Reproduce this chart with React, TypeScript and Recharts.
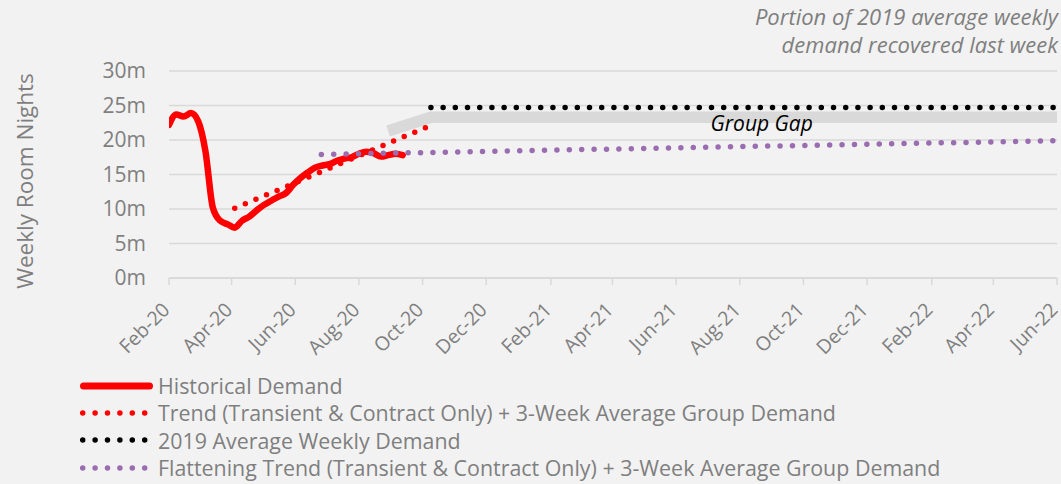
import { LineChart, Line, XAxis, YAxis, CartesianGrid, Legend, ReferenceDot } from 'recharts'

const FONT = '"Open Sans", sans-serif'
const GREY_TEXT = '#7f7f7f'
const GRID = '#d9d9d9'

const DAY = 86400000
const d = (s: string) => Date.parse(s + 'T00:00:00Z')

const X_START = '2020-02-01'
const X_END = '2022-06-01'
const TICK_DATES = [
  '2020-02-01', '2020-04-01', '2020-06-01', '2020-08-01', '2020-10-01', '2020-12-01',
  '2021-02-01', '2021-04-01', '2021-06-01', '2021-08-01', '2021-10-01', '2021-12-01',
  '2022-02-01', '2022-04-01', '2022-06-01',
]
const TICK_LABELS = [
  'Feb-20', 'Apr-20', 'Jun-20', 'Aug-20', 'Oct-20', 'Dec-20',
  'Feb-21', 'Apr-21', 'Jun-21', 'Aug-21', 'Oct-21', 'Dec-21',
  'Feb-22', 'Apr-22', 'Jun-22',
]
const Y_TICKS = [0, 5, 10, 15, 20, 25, 30]

// weekly room nights (millions), one value per week from HIST_START
const HIST_START = '2020-02-01'
const HIST_VALUES = [
  22.2, 23.7, 23.4, 23.9, 22.7, 18.3, 10.2, 8.3, 7.8, 7.3, 8.3, 8.9, 9.8,
  10.6, 11.2, 11.8, 12.3, 13.5, 14.5, 15.3, 16.0, 16.3, 16.5, 17.0, 17.3,
  17.5, 18.0, 18.3, 18.1, 17.6, 17.8, 18.0, 17.8,
]

const TREND_DATES = ['2020-04-04', '2020-10-07']
const TREND_VALUES = [10.1, 22.0]

const AVG_DATES = ['2020-10-09', '2022-06-01']
const AVG_VALUES = [24.7, 24.7]

const FLAT_DATES = ['2020-06-26', '2022-06-01']
const FLAT_VALUES = [17.9, 19.9]

const GAP_DATES = ['2020-08-29', '2020-10-09', '2022-06-01']
const GAP_VALUES = [21.3, 23.3, 23.3]

const LEGEND = [
  { name: 'Historical Demand', color: '#ff0000', dotted: false },
  { name: 'Trend (Transient & Contract Only) + 3-Week Average Group Demand', color: '#ff0000', dotted: true },
  { name: '2019 Average Weekly Demand', color: '#000000', dotted: true },
  { name: 'Flattening Trend (Transient & Contract Only) + 3-Week Average Group Demand', color: '#9a6cb0', dotted: true },
]

const toPoints = (dates: string[], values: number[]) =>
  dates.map((s, i) => ({ t: d(s), v: values[i] }))

const histData = HIST_VALUES.map((v, i) => ({ t: d(HIST_START) + i * 7 * DAY, v }))
const trendData = toPoints(TREND_DATES, TREND_VALUES)
const avgData = toPoints(AVG_DATES, AVG_VALUES)
const flatData = toPoints(FLAT_DATES, FLAT_VALUES)
const gapData = toPoints(GAP_DATES, GAP_VALUES)

function XTick(props: any) {
  const { x, y, index } = props
  const tx = x + 2
  const ty = y + 24
  return (
    <text x={tx} y={ty} transform={`rotate(-45, ${tx}, ${ty})`} textAnchor="end"
      fill={GREY_TEXT} fontSize={19.5} fontFamily={FONT}>
      {TICK_LABELS[index]}
    </text>
  )
}

function YTitle() {
  return (
    <text x={33} y={181} transform="rotate(-90, 33, 181)" textAnchor="middle"
      fill={GREY_TEXT} fontSize={22.5} fontFamily={FONT}>
      Weekly Room Nights
    </text>
  )
}

function LegendBox() {
  return (
    <div style={{ fontFamily: FONT, fontSize: 21.4, color: GREY_TEXT, paddingTop: 2 }}>
      {LEGEND.map(item => (
        <div key={item.name} style={{ display: 'flex', alignItems: 'center', height: 27.3, whiteSpace: 'nowrap' }}>
          <svg width={78} height={12} style={{ flex: 'none' }}>
            {item.dotted ? (
              <line x1={2.7} x2={66} y1={6} y2={6} stroke={item.color} strokeWidth={5.5}
                strokeDasharray="0 12.4" strokeLinecap="round" />
            ) : (
              <line x1={3.5} x2={69.5} y1={6} y2={6} stroke={item.color} strokeWidth={7}
                strokeLinecap="round" />
            )}
          </svg>
          <span style={{ lineHeight: 1 }}>{item.name}</span>
        </div>
      ))}
    </div>
  )
}

export default function App() {
  return (
    <div style={{ position: 'absolute', left: 0, top: 0, width: 1061, height: 484, background: '#f2f2f2', overflow: 'hidden' }}>
      <div style={{
        position: 'absolute', right: 3, top: 2, textAlign: 'right', fontFamily: FONT,
        fontStyle: 'italic', fontSize: 22, lineHeight: '28px', color: GREY_TEXT,
      }}>
        Portion of 2019 average weekly<br />demand recovered last week
      </div>
      <LineChart width={1061} height={484} margin={{ top: 71, right: 4, left: 0, bottom: 4 }}>
        <CartesianGrid vertical={false} stroke={GRID} strokeWidth={1.5} />
        <XAxis dataKey="t" type="number" domain={[d(X_START), d(X_END)]} allowDataOverflow
          ticks={TICK_DATES.map(d)} interval={0} tick={<XTick />} height={92}
          axisLine={{ stroke: GRID, strokeWidth: 1.5 }} tickLine={{ stroke: GRID, strokeWidth: 1.5 }} tickSize={7} />
        <YAxis type="number" domain={[0, 30]} ticks={Y_TICKS} width={169}
          tickFormatter={(v: number) => `${v}m`} axisLine={false} tickLine={false}
          tickSize={0} tickMargin={23}
          tick={{ fill: GREY_TEXT, fontSize: 21, fontFamily: FONT }}
          label={<YTitle />} />
        <Legend verticalAlign="bottom" align="left" height={110}
          wrapperStyle={{ left: 80 }} content={() => <LegendBox />} />
        <Line data={gapData} dataKey="v" type="linear" stroke="#d9d9d9" strokeWidth={11.5}
          strokeLinecap="butt" dot={false} activeDot={false} legendType="none" isAnimationActive={false} />
        <Line data={histData} dataKey="v" name={LEGEND[0].name} type="monotone" stroke="#ff0000"
          strokeWidth={6.5} strokeLinecap="round" strokeLinejoin="round" dot={false} activeDot={false} isAnimationActive={false} />
        <Line data={trendData} dataKey="v" name={LEGEND[1].name} type="linear" stroke="#ff0000"
          strokeWidth={5.5} strokeDasharray="0 11.5" strokeLinecap="round" dot={false} activeDot={false} isAnimationActive={false} />
        <Line data={avgData} dataKey="v" name={LEGEND[2].name} type="linear" stroke="#000000"
          strokeWidth={5.5} strokeDasharray="0 12.2" strokeLinecap="round" dot={false} activeDot={false} isAnimationActive={false} />
        <Line data={flatData} dataKey="v" name={LEGEND[3].name} type="linear" stroke="#9a6cb0"
          strokeWidth={5.5} strokeDasharray="0 12.4" strokeLinecap="round" dot={false} activeDot={false} isAnimationActive={false} />
        <ReferenceDot x={d('2021-08-22')} y={22.17} r={0}
          shape={(p: any) => (
            <text x={p.cx} y={p.cy + 6} textAnchor="middle" fontFamily={FONT}
              fontStyle="italic" fontSize={21} fill="#000">Group Gap</text>
          )} />
      </LineChart>
    </div>
  )
}
